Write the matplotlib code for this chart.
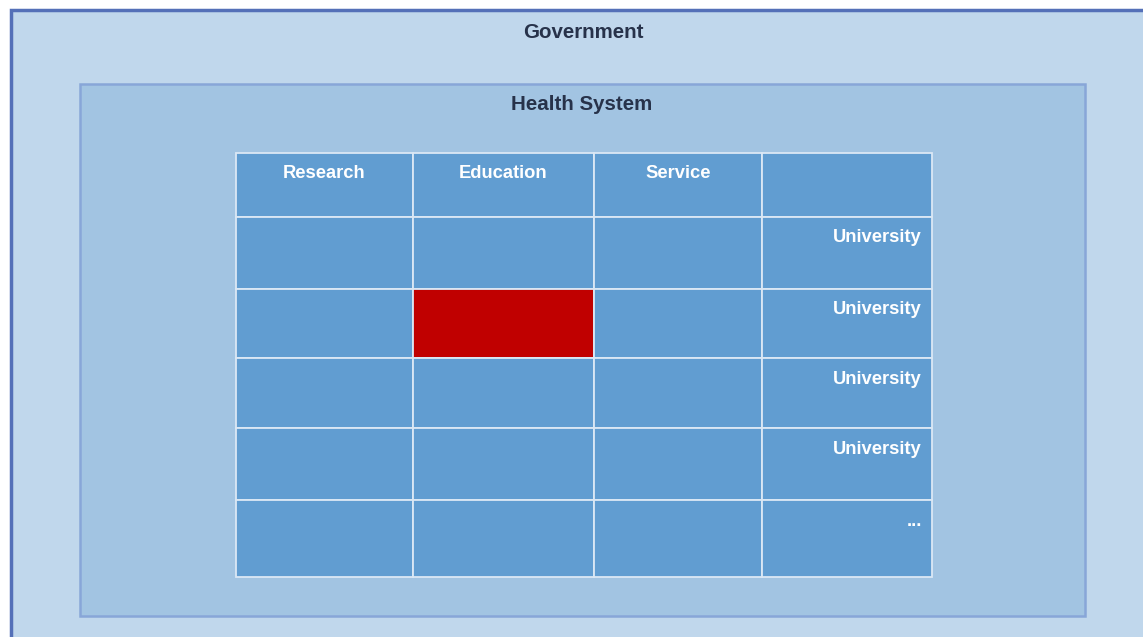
import matplotlib.pyplot as plt
from matplotlib.patches import Rectangle

# diagram content
outer_label = "Government"
inner_label = "Health System"
column_labels = ["Research", "Education", "Service", ""]
row_labels = ["University", "University", "University", "University", "..."]
highlight_cell = (2, 1)  # (row, column) counted with header row as 0

# layout in pixels (figure is 1143 x 637)
col_edges = [236, 413, 594, 762, 932]
row_edges = [153, 217, 289, 358, 428, 500, 577]

plt.rcParams['font.family'] = ['Liberation Sans', 'DejaVu Sans']

fig = plt.figure(figsize=(11.43, 6.37), dpi=100)
ax = fig.add_axes([0, 0, 1, 1])
ax.set_xlim(0, 1143)
ax.set_ylim(637, 0)
ax.axis("off")

# outer box (runs off the right and bottom edges)
ax.add_patch(Rectangle((11, 10), 1150, 640, facecolor="#c0d7ec",
                       edgecolor="#5470b8", linewidth=2.5))
ax.text(583, 32, outer_label, ha="center", va="center", fontsize=14.8,
        fontweight="bold", color="#27324a")

# inner box
ax.add_patch(Rectangle((80, 84), 1005, 532, facecolor="#a2c4e2",
                       edgecolor="#88a6d8", linewidth=1.8))
ax.text(582, 105, inner_label, ha="center", va="center", fontsize=14.8,
        fontweight="bold", color="#27324a")

# table
n_rows = len(row_edges) - 1
n_cols = len(col_edges) - 1
for r in range(n_rows):
    for c in range(n_cols):
        x0, x1 = col_edges[c], col_edges[c + 1]
        y0, y1 = row_edges[r], row_edges[r + 1]
        color = "#c00000" if (r, c) == highlight_cell else "#619dd1"
        ax.add_patch(Rectangle((x0, y0), x1 - x0, y1 - y0, facecolor=color,
                               edgecolor="#dbe8f5", linewidth=1.3))

# header labels
for c, label in enumerate(column_labels):
    xc = (col_edges[c] + col_edges[c + 1]) / 2
    ax.text(xc, row_edges[0] + 21, label, ha="center", va="center",
            fontsize=13.2, fontweight="bold", color="white")

# row labels in the last column
for r, label in enumerate(row_labels):
    ax.text(col_edges[-1] - 10, row_edges[r + 1] + 21, label, ha="right",
            va="center", fontsize=13.2, fontweight="bold", color="white")

fig.savefig("out.png", dpi=100)
